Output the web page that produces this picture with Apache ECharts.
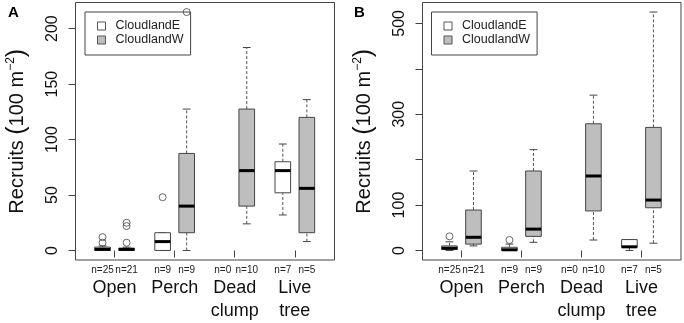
<!DOCTYPE html>
<html>
<head>
<meta charset="utf-8">
<script src="https://cdn.jsdelivr.net/npm/echarts@6/dist/echarts.min.js"></script>
<style>
  html, body { margin: 0; padding: 0; background: #fff; }
  #chart { width: 684px; height: 323px; }
</style>
</head>
<body>
<div id="chart"></div>
<script>
const habitats = ['Open', 'Perch', 'Dead\nclump', 'Live\ntree'];
const sites = ['CloudlandE', 'CloudlandW'];
// n per habitat, [E, W]
const sampleSizes = [[25, 21], [9, 9], [0, 10], [7, 5]];

// boxes: [min, q1, median, q3, max] per habitat (null = no data)
const boxesAEast = [[0, 0, 1, 3, 4], [0, 0, 8, 16, 16], null, [32, 52, 72, 80, 96]];
const boxesAWest = [[0, 0, 1, 2, 3], [0, 16, 40, 87.5, 127.5], [24, 40, 72, 127.5, 183], [8, 16, 56, 120, 136]];
const outliersAEast = [[7, 12], [48], [], []];
const outliersAWest = [[7, 22, 25], [215], [], []];

const boxesBEast = [[0, 2, 5, 10, 19], [0, 0, 1.5, 7, 14], null, [0, 7, 8, 24, 24]];
const boxesBWest = [[10, 14, 29, 89, 175], [18, 31, 47, 175, 222], [23, 87, 164, 279, 342], [16, 94, 111, 271, 525]];
const outliersBEast = [[31], [23], [], []];
const outliersBWest = [[], [], [], []];

const ticksA = [0, 50, 100, 150, 200];
const ticksB = [0, 100, 200, 300, 400, 500];
const labelsB = [0, 100, 300, 500];

const font = 'Liberation Sans, Arial, sans-serif';
const fills = ['#ffffff', '#bebebe'];
const offsets = [-0.2, 0.2];
const groupPos = habitats.map((h, i) => i + 1);
const boxPos = [];
groupPos.forEach(g => offsets.forEach(o => boxPos.push(+(g + o).toFixed(2))));
const nLabels = [];
sampleSizes.forEach(p => p.forEach(n => nLabels.push('n=' + n)));

function boxData(boxes, side) {
    let out = [];
    boxes.forEach((b, i) => {
        if (b) out.push([groupPos[i] + offsets[side]].concat(b));
    });
    return out;
}

function outlierData(list, side) {
    let out = [];
    list.forEach((vals, i) => {
        vals.forEach(v => out.push([groupPos[i] + offsets[side], v]));
    });
    return out;
}

function renderBox(params, api) {
    let x = api.value(0);
    let pMin = api.coord([x, api.value(1)]);
    let pQ1 = api.coord([x, api.value(2)]);
    let pMed = api.coord([x, api.value(3)]);
    let pQ3 = api.coord([x, api.value(4)]);
    let pMax = api.coord([x, api.value(5)]);
    let half = api.size([0.13, 0])[0];
    let cap = half / 2;
    let cx = pMed[0];
    let dashed = { stroke: '#555', lineWidth: 1, lineDash: [3, 2] };
    let solid = { stroke: '#444', lineWidth: 1 };
    return {
        type: 'group',
        children: [
            { type: 'line', shape: { x1: cx, y1: pMin[1], x2: cx, y2: pQ1[1] }, style: dashed },
            { type: 'line', shape: { x1: cx, y1: pQ3[1], x2: cx, y2: pMax[1] }, style: dashed },
            { type: 'line', shape: { x1: cx - cap, y1: pMin[1], x2: cx + cap, y2: pMin[1] }, style: solid },
            { type: 'line', shape: { x1: cx - cap, y1: pMax[1], x2: cx + cap, y2: pMax[1] }, style: solid },
            {
                type: 'rect',
                shape: { x: cx - half, y: pQ3[1], width: half * 2, height: pQ1[1] - pQ3[1] },
                style: { fill: api.visual('color'), stroke: '#444', lineWidth: 1 }
            },
            { type: 'line', shape: { x1: cx - half, y1: pMed[1], x2: cx + half, y2: pMed[1] }, style: { stroke: '#000', lineWidth: 3 } }
        ]
    };
}

function catAxis(grid) {
    return {
        type: 'value', gridIndex: grid, position: 'bottom', min: 0.35, max: 4.66,
        axisLine: { show: false }, splitLine: { show: false },
        axisTick: { show: true, length: 7, customValues: groupPos, lineStyle: { color: '#444' } },
        axisLabel: {
            customValues: groupPos, margin: 17, fontSize: 18, lineHeight: 23,
            fontFamily: font, color: '#111',
            formatter: v => habitats[Math.round(v) - 1]
        }
    };
}

function nAxis(grid) {
    return {
        type: 'value', gridIndex: grid, position: 'bottom', offset: 0, min: 0.35, max: 4.66,
        axisLine: { show: false }, axisTick: { show: false }, splitLine: { show: false },
        axisLabel: {
            customValues: boxPos, margin: 5, fontSize: 10, fontFamily: font, color: '#222',
            formatter: v => {
                let best = 0;
                boxPos.forEach((p, i) => { if (Math.abs(p - v) < Math.abs(boxPos[best] - v)) best = i; });
                return nLabels[best];
            }
        }
    };
}

function valAxis(grid, min, max, ticks, labels) {
    return {
        type: 'value', gridIndex: grid, min: min, max: max,
        name: '{a|Recruits }{p|(}{a|100 m}{s|\u22122}{p|)}',
        nameLocation: 'middle', nameRotate: 90, nameGap: 45,
        nameTextStyle: {
            rich: {
                a: { fontSize: 20, fontFamily: font, color: '#111', lineHeight: 26 },
                p: { fontSize: 25, fontFamily: font, color: '#111', lineHeight: 26 },
                s: { fontSize: 12, fontFamily: font, color: '#111', lineHeight: 26, verticalAlign: 'top', padding: [0, 0, 10, 0] }
            }
        },
        axisLine: { show: false }, splitLine: { show: false },
        axisTick: { show: true, length: 7, customValues: ticks, lineStyle: { color: '#444' } },
        axisLabel: { customValues: labels, rotate: 90, margin: 15, fontSize: 16, fontFamily: font, color: '#111' }
    };
}

function legendAt(left) {
    return {
        left: left, top: 12, orient: 'vertical', data: sites, selectedMode: false,
        icon: 'rect', itemWidth: 8, itemHeight: 8, itemGap: 0,
        padding: [7, 7, 8, 12],
        borderColor: '#444', borderWidth: 1, backgroundColor: '#fff',
        itemStyle: { borderColor: '#555', borderWidth: 1 },
        textStyle: { fontSize: 12.5, fontFamily: font, color: '#222', lineHeight: 14, padding: [0, 0, 0, 5] }
    };
}

const outlierStyle = { color: 'rgba(0,0,0,0)', borderColor: '#444', borderWidth: 1 };

const chart = echarts.init(document.getElementById('chart'));
chart.setOption({
    animation: false,
    backgroundColor: '#fff',
    grid: [
        { left: 75.5, top: 2.5, width: 259, height: 258, show: true, borderColor: '#444', borderWidth: 1 },
        { left: 422.5, top: 2.5, width: 258.5, height: 258, show: true, borderColor: '#444', borderWidth: 1 }
    ],
    xAxis: [catAxis(0), nAxis(0), catAxis(1), nAxis(1)],
    yAxis: [
        valAxis(0, -8.6, 223.6, ticksA, ticksA),
        valAxis(1, -21, 546, ticksB, labelsB)
    ],
    legend: [legendAt(85), legendAt(431.5)],
    graphic: [
        { type: 'text', left: 8, top: 5, style: { text: 'A', fontSize: 15, fontWeight: 'bold', fontFamily: font, fill: '#000' } },
        { type: 'text', left: 354, top: 5, style: { text: 'B', fontSize: 15, fontWeight: 'bold', fontFamily: font, fill: '#000' } }
    ],
    series: [
        { type: 'custom', name: sites[0], xAxisIndex: 0, yAxisIndex: 0, renderItem: renderBox, itemStyle: { color: fills[0] },
          encode: { x: 0, y: [1, 2, 3, 4, 5] }, data: boxData(boxesAEast, 0) },
        { type: 'custom', name: sites[1], xAxisIndex: 0, yAxisIndex: 0, renderItem: renderBox, itemStyle: { color: fills[1] },
          encode: { x: 0, y: [1, 2, 3, 4, 5] }, data: boxData(boxesAWest, 1) },
        { type: 'custom', name: sites[0], xAxisIndex: 2, yAxisIndex: 1, renderItem: renderBox, itemStyle: { color: fills[0] },
          encode: { x: 0, y: [1, 2, 3, 4, 5] }, data: boxData(boxesBEast, 0) },
        { type: 'custom', name: sites[1], xAxisIndex: 2, yAxisIndex: 1, renderItem: renderBox, itemStyle: { color: fills[1] },
          encode: { x: 0, y: [1, 2, 3, 4, 5] }, data: boxData(boxesBWest, 1) },
        { type: 'scatter', name: 'outA', xAxisIndex: 0, yAxisIndex: 0, symbol: 'circle', symbolSize: 7, z: 5,
          itemStyle: outlierStyle, data: outlierData(outliersAEast, 0).concat(outlierData(outliersAWest, 1)) },
        { type: 'scatter', name: 'outB', xAxisIndex: 2, yAxisIndex: 1, symbol: 'circle', symbolSize: 7, z: 5,
          itemStyle: outlierStyle, data: outlierData(outliersBEast, 0).concat(outlierData(outliersBWest, 1)) }
    ]
});
</script>
</body>
</html>
